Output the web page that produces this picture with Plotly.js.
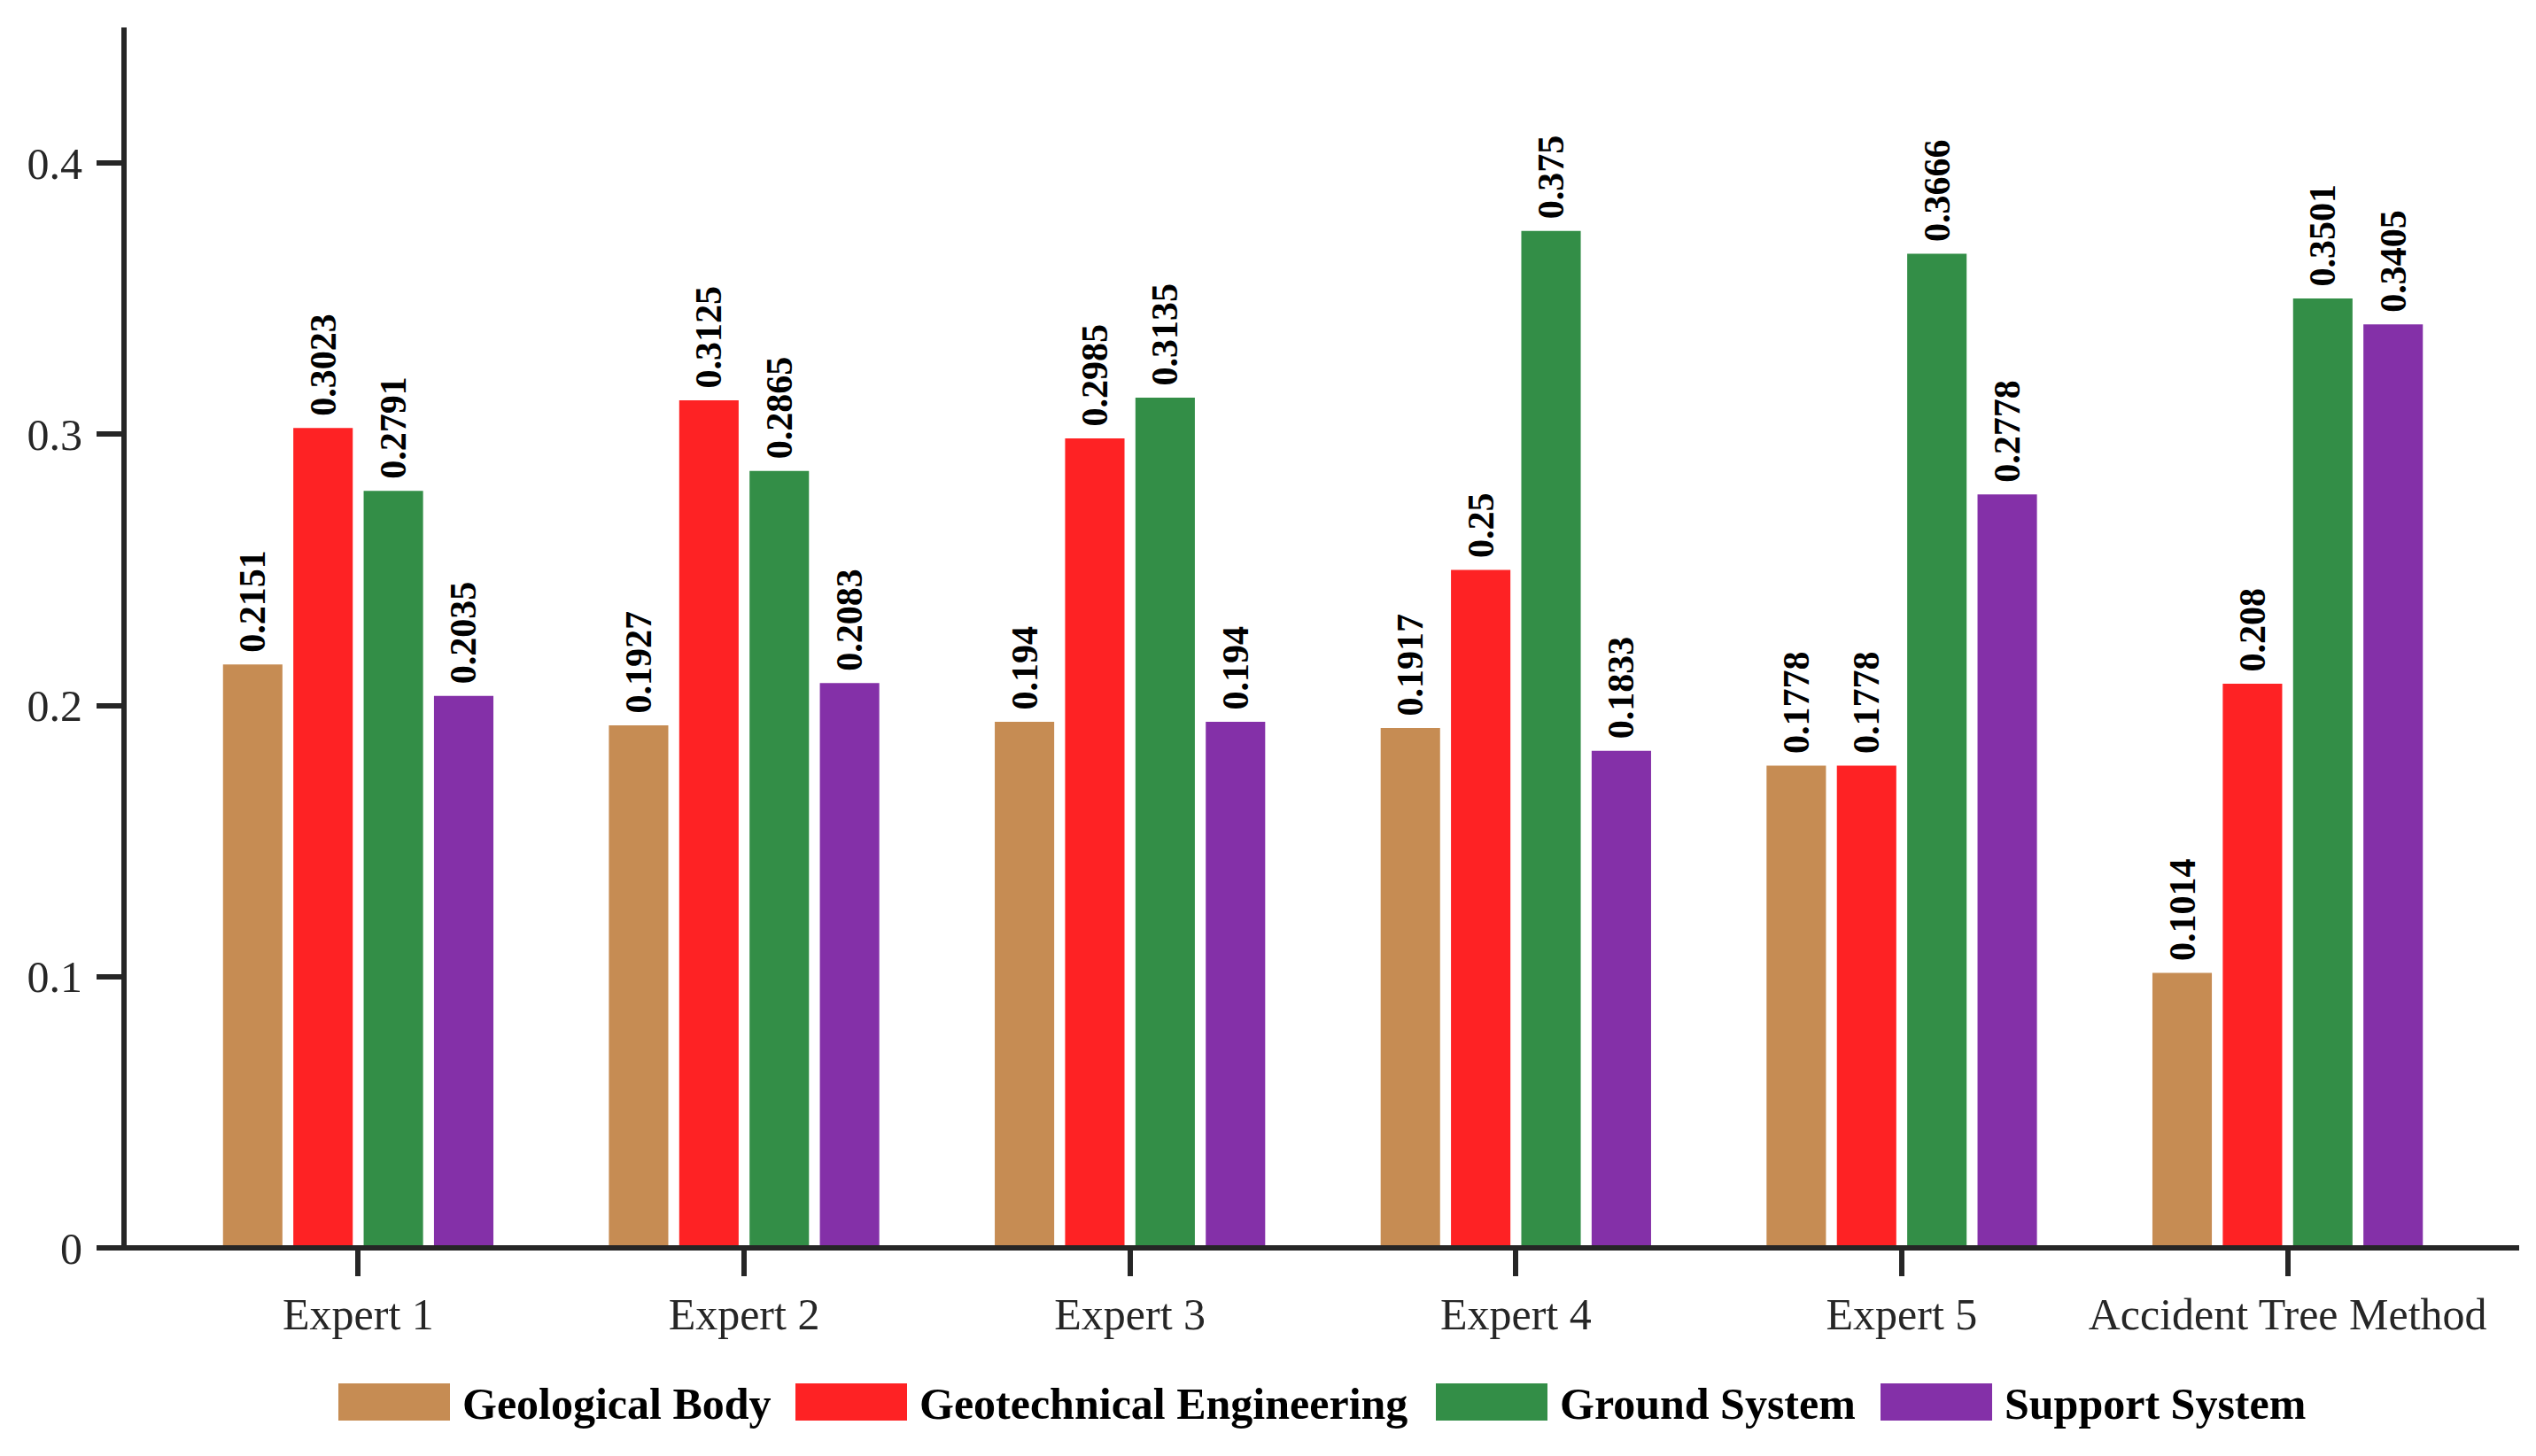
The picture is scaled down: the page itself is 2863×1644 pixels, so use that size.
<!DOCTYPE html>
<html>
<head>
<meta charset="utf-8">
<script src="https://cdn.plot.ly/plotly-3.0.1.min.js"></script>
<style>
  html, body { margin: 0; padding: 0; background: #fff; }
  #graph { width: 2863px; height: 1644px; }
</style>
</head>
<body>
<div id="graph"></div>
<script>
var categories = ['Expert 1', 'Expert 2', 'Expert 3', 'Expert 4', 'Expert 5', 'Accident Tree Method'];
var seriesNames = ['Geological Body', 'Geotechnical Engineering', 'Ground System', 'Support System'];
var geologicalBody = [0.2151, 0.1927, 0.194, 0.1917, 0.1778, 0.1014];
var geotechnicalEngineering = [0.3023, 0.3125, 0.2985, 0.25, 0.1778, 0.208];
var groundSystem = [0.2791, 0.2865, 0.3135, 0.375, 0.3666, 0.3501];
var supportSystem = [0.2035, 0.2083, 0.194, 0.1833, 0.2778, 0.3405];
var yTicks = [0, 0.1, 0.2, 0.3, 0.4];

var seriesValues = [geologicalBody, geotechnicalEngineering, groundSystem, supportSystem];
var colors = ['#C68C53', '#FE2224', '#338E47', '#8430A8'];

var W = 2863, H = 1644;
var m = {l: 143, r: 19, t: 31, b: 235};
var plotW = W - m.l - m.r, plotH = H - m.t - m.b;
function px2x(px) { return (px - m.l) / plotW; }
function px2y(py) { return (H - m.b - py) / plotH; }

var serif = 'Liberation Serif, Times New Roman, serif';
var axisColor = '#262626';

var data = seriesValues.map(function (vals, i) {
  return {
    type: 'bar',
    name: seriesNames[i],
    x: categories,
    y: vals,
    text: vals.map(function (v) { return '\u00a0' + v; }),
    textposition: 'outside',
    textangle: -90,
    constraintext: 'none',
    cliponaxis: false,
    textfont: {family: serif, size: 42, color: '#000', weight: 'bold'},
    marker: {color: colors[i], line: {width: 0}},
    hoverinfo: 'none'
  };
});

// legend drawn as big keys like the original figure
var legendKeyX = [382, 898, 1621, 2123];
var keyW = 126, keyTop = 1562, keyBottom = 1604;
var shapes = [{
  type: 'line', xref: 'paper', yref: 'paper',
  x0: px2x(113), x1: 1, y0: 0, y1: 0,
  line: {color: axisColor, width: 6}
}];
var annotations = [];
seriesNames.forEach(function (name, i) {
  shapes.push({
    type: 'rect', xref: 'paper', yref: 'paper',
    x0: px2x(legendKeyX[i]), x1: px2x(legendKeyX[i] + keyW),
    y0: px2y(keyBottom), y1: px2y(keyTop),
    fillcolor: colors[i], line: {width: 0}
  });
  annotations.push({
    xref: 'paper', yref: 'paper',
    x: px2x(legendKeyX[i] + keyW + 12), y: px2y((keyTop + keyBottom) / 2 + 2),
    xanchor: 'left', yanchor: 'middle', showarrow: false,
    text: name,
    font: {family: serif, size: 50, color: '#000', weight: 'bold'}
  });
});

var layout = {
  width: W, height: H,
  margin: m,
  paper_bgcolor: '#fff', plot_bgcolor: '#fff',
  barmode: 'group',
  bargap: 0.271,
  bargroupgap: 0.155,
  showlegend: false,
  xaxis: {
    type: 'category',
    range: [-0.6, 5.6],
    showline: false, showgrid: false, zeroline: false,
    ticks: 'outside', ticklen: 31, tickwidth: 6, tickcolor: axisColor,
    ticklabelstandoff: 0,
    tickfont: {family: serif, size: 50, color: axisColor}
  },
  yaxis: {
    range: [0, 0.45],
    tickvals: yTicks,
    showline: true, linecolor: axisColor, linewidth: 6,
    showgrid: false, zeroline: false,
    ticks: 'outside', ticklen: 28, tickwidth: 6, tickcolor: axisColor,
    ticklabelstandoff: 6,
    tickfont: {family: serif, size: 50, color: axisColor}
  },
  shapes: shapes,
  annotations: annotations
};

Plotly.newPlot('graph', data, layout, {displayModeBar: false, staticPlot: true});
</script>
</body>
</html>
